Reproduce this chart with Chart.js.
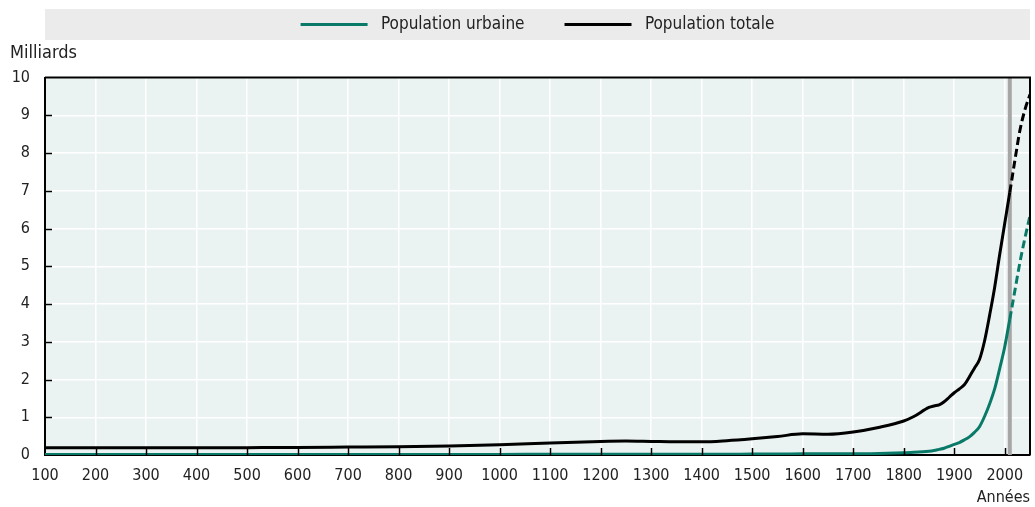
<!DOCTYPE html>
<html>
<head>
<meta charset="utf-8">
<script src="https://cdn.jsdelivr.net/npm/chart.js@4.4.1/dist/chart.umd.min.js"></script>
<style>
  html, body { margin: 0; padding: 0; background: #ffffff; }
  #wrap { width: 1035px; height: 507px; }
</style>
</head>
<body>
<div id="wrap"><canvas id="c" width="1035" height="507"></canvas></div>
<script>
// ---- Data ----
const years = [100,200,300,400,500,600,700,800,900,1000,1100,1200,1250,1300,1350,1400,1450,1500,1550,1600,1650,1700,1750,1800,1820,1850,1860,1870,1880,1890,1900,1910,1920,1930,1940,1950,1960,1970,1980,1990,2000,2010,2020,2030,2040,2050];
const totalPop = [0.19,0.19,0.19,0.19,0.195,0.20,0.21,0.22,0.24,0.27,0.32,0.36,0.37,0.36,0.35,0.35,0.38,0.43,0.49,0.56,0.55,0.61,0.73,0.90,1.02,1.26,1.30,1.33,1.41,1.53,1.65,1.75,1.86,2.07,2.30,2.53,3.02,3.70,4.44,5.31,6.14,6.96,7.80,8.60,9.15,9.55];
const urbanPop = [0.015,0.015,0.015,0.015,0.015,0.015,0.015,0.015,0.015,0.015,0.02,0.02,0.02,0.02,0.02,0.02,0.02,0.025,0.025,0.03,0.03,0.03,0.04,0.06,0.07,0.10,0.12,0.15,0.18,0.23,0.28,0.33,0.40,0.48,0.60,0.75,1.02,1.35,1.75,2.29,2.87,3.60,4.35,5.10,5.75,6.34];
const projectionStart = 2010;           // projections (dashed) from this year
const markerYear = [2010, 2010];        // grey vertical marker
const markerRange = [0, 10];
const xTickValues = [100,200,300,400,500,600,700,800,900,1000,1100,1200,1300,1400,1500,1600,1700,1800,1900,2000];
const seriesLabels = ['Population urbaine', 'Population totale'];
const yAxisLabel = 'Milliards';
const xAxisLabel = 'Années';

const GREEN = '#0a7a68';
const BLACK = '#000000';
const FONT = "'DejaVu Sans Condensed', 'Liberation Sans Narrow', 'Arial Narrow', sans-serif";
const LEGEND_PAD = 40;
const LEGEND_FONT = 17;

Chart.defaults.font.family = FONT;
Chart.defaults.font.size = 16;
Chart.defaults.color = '#222222';

const toPoints = (vals) => years.map((y, i) => ({ x: y, y: vals[i] }));
const dashAfter = (ctx) => (ctx.p0.parsed.x >= projectionStart ? [8, 4] : undefined);

const bgPlugin = {
  id: 'bg',
  afterLayout(chart) {
    const lg = chart.legend;
    const a = chart.chartArea;
    if (lg) {
      lg.left = a.left; lg.right = a.right;
      lg.top = 24.5 - LEGEND_PAD - LEGEND_FONT / 2;
      lg.bottom = 45;
    }
  },
  beforeDraw(chart) {
    const { ctx, chartArea: a } = chart;
    ctx.save();
    // legend band
    ctx.fillStyle = '#ebebeb';
    ctx.fillRect(a.left, 9, a.right - a.left, 31);
    // plot background
    ctx.fillStyle = '#eaf3f2';
    ctx.fillRect(a.left, a.top, a.right - a.left, a.bottom - a.top);
    ctx.restore();
  },
  afterDraw(chart) {
    const { ctx, chartArea: a, scales } = chart;
    ctx.save();
    ctx.strokeStyle = '#000';
    ctx.lineWidth = 1.5;
    // inner ticks on y axis
    scales.y.ticks.forEach(t => {
      if (t.value <= 0 || t.value >= 10) return;
      const py = Math.round(scales.y.getPixelForValue(t.value)) + 0.5;
      ctx.beginPath(); ctx.moveTo(a.left, py); ctx.lineTo(a.left + 7, py); ctx.stroke();
    });
    // inner ticks on x axis
    scales.x.ticks.forEach(t => {
      const px = Math.round(scales.x.getPixelForValue(t.value)) + 0.5;
      if (px <= a.left + 1) return;
      ctx.beginPath(); ctx.moveTo(px, a.bottom); ctx.lineTo(px, a.bottom - 7); ctx.stroke();
    });
    // frame top & right
    ctx.lineWidth = 2;
    ctx.beginPath();
    ctx.moveTo(a.left, a.top); ctx.lineTo(a.right, a.top); ctx.lineTo(a.right, a.bottom);
    ctx.stroke();
    ctx.restore();
  }
};

new Chart(document.getElementById('c'), {
  type: 'line',
  data: {
    datasets: [
      {
        label: seriesLabels[0],
        data: toPoints(urbanPop),
        borderColor: GREEN,
        backgroundColor: GREEN,
        borderWidth: 3,
        pointRadius: 0,
        cubicInterpolationMode: 'monotone',
        segment: { borderDash: dashAfter },
        order: 1
      },
      {
        label: seriesLabels[1],
        data: toPoints(totalPop),
        borderColor: BLACK,
        backgroundColor: BLACK,
        borderWidth: 3,
        pointRadius: 0,
        cubicInterpolationMode: 'monotone',
        segment: { borderDash: dashAfter },
        order: 0
      },
      {
        label: 'marker',
        data: markerYear.map((x, i) => ({ x: x, y: markerRange[i] })),
        borderColor: '#a6a6a6',
        borderWidth: 4,
        pointRadius: 0,
        order: 5
      }
    ]
  },
  options: {
    responsive: false,
    animation: false,
    events: [],
    layout: { padding: { left: 10, right: 5, top: 0, bottom: 0 } },
    plugins: {
      tooltip: { enabled: false },
      legend: {
        position: 'top',
        maxHeight: 40,
        labels: {
          boxWidth: 67,
          boxHeight: 3,
          padding: LEGEND_PAD,
          color: '#222222',
          font: { size: LEGEND_FONT },
          filter: (item) => item.datasetIndex < 2,
          sort: (a, b) => a.datasetIndex - b.datasetIndex,
          generateLabels: (chart) => Chart.defaults.plugins.legend.labels.generateLabels(chart).map(l => ({
            ...l,
            text: ' ' + l.text,
            lineWidth: 0,
            fillStyle: chart.data.datasets[l.datasetIndex].borderColor
          }))
        }
      },
      title: {
        display: true,
        text: yAxisLabel,
        align: 'start',
        weight: 500,
        color: '#222222',
        font: { size: 18, weight: 'normal' },
        padding: { top: 3, bottom: 13 }
      }
    },
    scales: {
      x: {
        type: 'linear',
        min: 100,
        max: 2050,
        afterBuildTicks: (scale) => { scale.ticks = xTickValues.map(v => ({ value: v })); },
        afterFit: (scale) => { scale.height = 52; },
        ticks: {
          autoSkip: false,
          maxRotation: 0,
          padding: 11,
          color: '#222222',
          font: { size: 16 },
          callback: (v) => String(v)
        },
        grid: { color: '#ffffff', lineWidth: 1.5, drawTicks: false },
        border: { color: '#000000', width: 2 },
        title: {
          display: true,
          text: xAxisLabel,
          align: 'end',
          color: '#222222',
          font: { size: 16 },
          padding: { top: 0, bottom: 0 }
        }
      },
      y: {
        min: 0,
        max: 10,
        afterFit: (scale) => { scale.width = 35; },
        ticks: {
          stepSize: 1,
          padding: 15,
          color: '#222222',
          font: { size: 16 }
        },
        grid: { color: '#ffffff', lineWidth: 1.5, drawTicks: false },
        border: { color: '#000000', width: 2 }
      }
    }
  },
  plugins: [bgPlugin]
});
</script>
</body>
</html>
